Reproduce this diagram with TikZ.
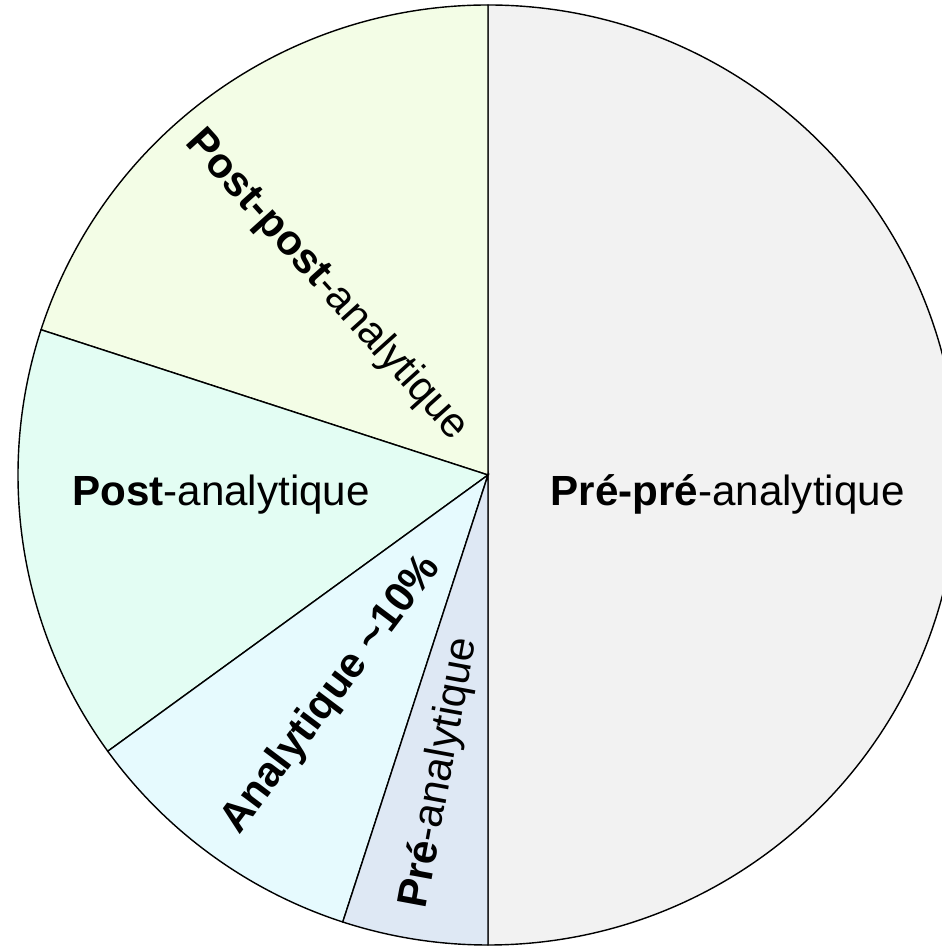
\documentclass[tikz,border=0pt]{standalone}
\usepackage{fontspec}
\setmainfont{Liberation Sans}
\usetikzlibrary{calc}

\definecolor{prepre}{HTML}{F2F2F2}
\definecolor{postpost}{HTML}{F3FDE6}
\definecolor{post}{HTML}{E3FDF3}
\definecolor{analy}{HTML}{E6FAFE}
\definecolor{pre}{HTML}{DEE8F4}

\begin{document}
\begin{tikzpicture}[line width=0.8pt, lbl/.style={inner sep=0pt, font=\fontsize{24}{28}\selectfont}]
    \useasboundingbox (0,0) rectangle (18.82,18.94);
    \coordinate (center) at (9.76,9.44);

    % slices
    \foreach \a/\b/\col in {-90/90/prepre, 90/162/postpost, 162/216/post, 216/252/analy, 252/270/pre} {
      \filldraw[fill=\col] (center) -- ($(center)+(\a:9.4)$) arc[start angle=\a, end angle=\b, radius=9.4] -- cycle;
    };

    % labels
    \node[lbl, anchor=base] (prepre-lbl) at (14.55,8.82) {\textbf{Pré-pré}-analytique};
    \node[lbl, anchor=base] (post-lbl) at (4.42,8.82) {\textbf{Post}-analytique};
    \node[lbl, rotate=-48] (postpost-lbl) at (6.53,13.23) {\textbf{Post-post}-analytique};
    \node[lbl, rotate=53] (analy-lbl) at (6.63,5.04) {\textbf{Analytique \textasciitilde10\%}};
    \node[lbl, rotate=79.5] (pre-lbl) at (8.80,3.48) {\textbf{Pré}-analytique};
  \end{tikzpicture}
\end{document}
